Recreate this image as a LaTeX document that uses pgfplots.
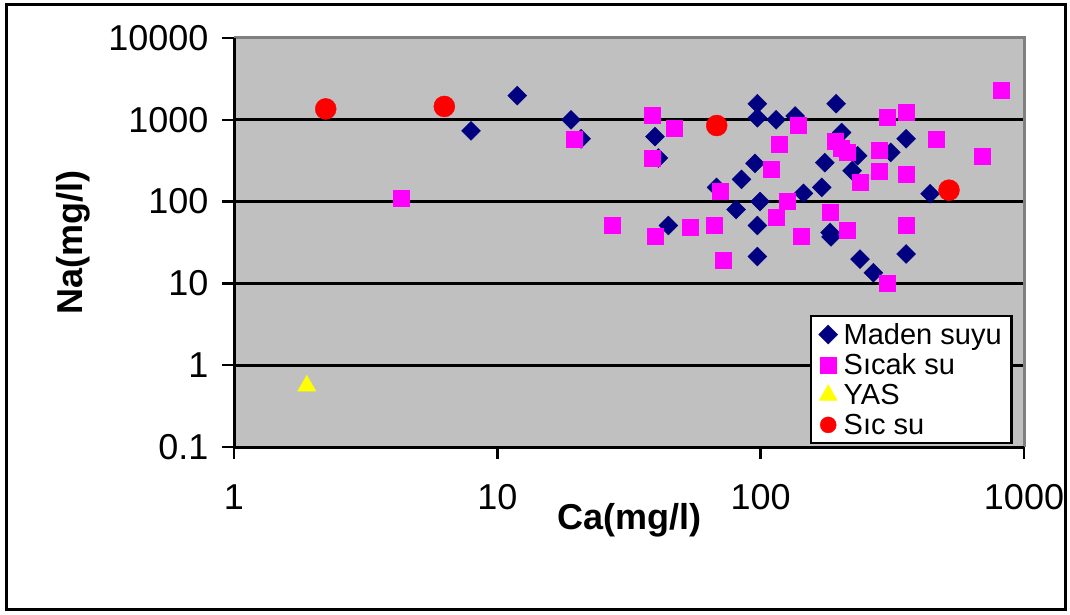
\documentclass[border=0pt]{standalone}
\usepackage{pgfplots}
\pgfplotsset{compat=1.18}
\usepackage{fontspec}
\setmainfont{Liberation Sans}
\definecolor{plotgray}{HTML}{C0C0C0}
\definecolor{bordergray}{HTML}{808080}
\definecolor{navyc}{HTML}{000080}
\definecolor{magc}{HTML}{FF00FF}
\definecolor{yelc}{HTML}{FFFF00}
\definecolor{redc}{HTML}{FF0000}
\begin{document}
\begin{tikzpicture}[x=1pt,y=1pt]
\path[use as bounding box] (0,0) rectangle (1070,614);
\draw[line width=3pt] (6,5) rectangle (1065,609);
\begin{axis}[
  at={(234pt,167pt)}, anchor=south west,
  scale only axis, width=790pt, height=409pt,
  xmode=log, ymode=log,
  xmin=1, xmax=1000, ymin=0.1, ymax=10000,
  xtick={1,10,100,1000}, xticklabels={1,10,100,1000},
  ytick={0.1,1,10,100,1000,10000}, yticklabels={0.1,1,10,100,1000,10000},
  xminorticks=false, yminorticks=false,
  xtick pos=bottom, ytick pos=left,
  tick align=outside, major tick length=12pt,
  major tick style={black, line width=2.5pt},
  axis background/.style={fill=plotgray},
  ymajorgrids, xmajorgrids=false, major grid style={black, line width=3pt},
  axis line style={draw=none},
  ticklabel style={font=\fontsize{36}{36}\selectfont},
  xticklabel style={yshift=-22pt},
  yticklabel style={xshift=-10pt},
  xlabel={Ca(mg/l)}, ylabel={Na(mg/l)},
  xlabel style={at={(axis description cs:0.5,-0.1785)}, anchor=center, font=\fontsize{36}{36}\selectfont\bfseries},
  ylabel style={at={(axis description cs:-0.2038,0.5)}, anchor=center, font=\fontsize{36}{36}\selectfont\bfseries},
  legend style={at={(0.986,0.0073)}, anchor=south east, draw=black, line width=2.5pt, fill=white,
    font=\fontsize{29}{29}\selectfont, row sep=4pt, column sep=4pt, inner xsep=8pt, inner ysep=5pt},
  legend cell align=left,
  clip=false,
]
\addplot[only marks, mark=square*, mark size=6.7pt, line width=0.4pt,
  mark options={rotate=45, fill=navyc, draw=navyc}] coordinates {
(7.95,733) (11.9,1972) (19.05,1000) (20.8,585) (39.7,624) (40.9,341)
(44.6,51) (68.0,149) (95.2,293) (84.6,187) (99.5,100) (80.7,80)
(97.2,51) (97.2,1573) (97.2,1058) (114.4,1000) (135.1,1113) (145.5,126)
(193.4,1573) (203,698) (233.4,364) (175.2,299) (222.4,238) (97.2,21.3)
(170.6,149) (183.5,42) (185,37) (238.5,19.8) (268,13.5) (356.7,585)
(312,400) (440,125) (356.7,22.9)
};
\addlegendentry{Maden suyu}
\addplot[only marks, mark=square*, mark size=8pt, line width=0.4pt,
  mark options={fill=magc, draw=magc}] coordinates {
(4.32,108.6) (19.55,585) (38.8,1152) (46.9,788) (38.8,340) (70.1,134)
(117.8,498) (138.3,851) (109.5,250) (115,64.3) (125.6,100) (27.2,51)
(39.7,38) (53.9,48) (66.7,51) (71.8,19.4) (191.7,546) (203,453)
(212.3,400) (238.5,171) (142.3,38) (183.5,73.8) (212.3,44.5) (303,1076)
(356.7,1240) (464,585) (692,364) (816,2291) (282,428) (282,234)
(356.7,217) (356.7,51) (303,10)
};
\addlegendentry{S\i cak su}
\addplot[only marks, mark=triangle*, mark size=10.5pt, line width=0.4pt,
  mark options={fill=yelc, draw=yelc}] coordinates {
(1.89,0.56)
};
\addlegendentry{YAS}
\addplot[only marks, mark=*, mark size=10.5pt, line width=0.4pt,
  mark options={fill=redc, draw=redc},
  legend image code/.code={\draw[mark size=8pt] plot coordinates {(0.3cm,0cm)};}] coordinates {
(2.23,1359) (6.29,1456) (68.1,851) (519,138)
};
\addlegendentry{S\i c su}
\draw[bordergray, line width=3pt] (rel axis cs:0,1) -- (rel axis cs:1,1) -- (rel axis cs:1,0);
\draw[black, line width=3pt] (rel axis cs:0,1) -- (rel axis cs:0,0) -- (rel axis cs:1,0);
\end{axis}
\end{tikzpicture}
\end{document}
